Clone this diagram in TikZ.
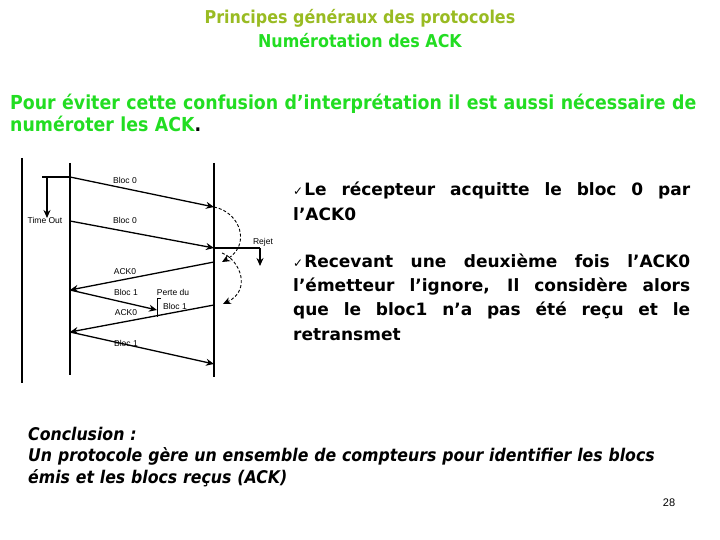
\documentclass[tikz,border=0pt]{standalone}
\usepackage{fontspec}
\setmainfont{DejaVu Sans}
\newfontfamily\condfont{DejaVu Sans Condensed}
\newfontfamily\arialfont{Liberation Sans}
\usetikzlibrary{arrows.meta,positioning}
\definecolor{olivetitle}{RGB}{153,187,34}
\definecolor{vertvif}{RGB}{34,221,34}
\newcommand{\ligne}[1]{\makebox[397pt][s]{#1}}
\newcommand{\coche}{{\mdseries\fontsize{12}{12}\selectfont ✓\kern1pt}}
\begin{document}
\begin{tikzpicture}[x=1pt,y=-1pt,
	lifeline/.style={line width=2pt},
	msg/.style={line width=1.3pt, -{Stealth[length=8pt,width=7pt]}},
	retour/.style={line width=0.9pt, densely dashed, -{Stealth[length=8pt,width=7pt]}},
	lbl/.style={font=\arialfont\fontsize{8.5}{9}\selectfont, inner sep=0pt},
	every node/.style={align=left}]
	
	\useasboundingbox (0,0) rectangle (720,540);
	
	% titres
	\node[font=\condfont\bfseries\fontsize{17.7}{18}\selectfont, text=olivetitle] (titre) at (360,18) {Principes généraux des protocoles};
	\node[font=\condfont\bfseries\fontsize{17.7}{18}\selectfont, text=vertvif] (soustitre) at (360,41) {Numérotation des ACK};
	\node[anchor=north west, inner sep=0pt, text width=705pt, font=\condfont\bfseries\fontsize{19.3}{22}\selectfont, text=vertvif] (intro) at (10,94)
	{Pour éviter cette confusion d’interprétation il est aussi nécessaire de\\ numéroter les ACK\textcolor{black}{.}};
	
	% lignes de vie
	\draw[lifeline] (22,158) -- (22,383);
	\draw[lifeline] (70,163) coordinate (emet) -- (70,375);
	\draw[lifeline] (214,163) coordinate (recep) -- (214,377);
	
	\coordinate (e1) at (70,177);
	\coordinate (r1) at (214,207);
	\coordinate (e2) at (70,221);
	\coordinate (r2) at (214,248);
	\coordinate (r3) at (214,262);
	\coordinate (e3) at (70,290);
	\coordinate (perte) at (157,310);
	\coordinate (r4) at (214,305);
	\coordinate (e4) at (70,332);
	\coordinate (r5) at (214,364);
	
	% time out
	\coordinate (to) at (42,177);
	\coordinate (toa) at (47,177);
	\coordinate (tob) at (47,218);
	\draw[line width=1.5pt] (to) -- (e1);
	\draw[msg] (toa) -- (tob);
	\node[lbl] (timeout) at (45,220) {Time Out};
	
	% echanges
	\draw[msg] (e1) -- (r1);
	\node[lbl] (b0a) at (125,180) {Bloc 0};
	\draw[msg] (e2) -- (r2);
	\node[lbl] (b0b) at (125,220) {Bloc 0};
	\draw[msg] (r3) -- (e3);
	\node[lbl] (ack0a) at (125,272) {ACK0};
	\draw[msg] (e3) -- (perte);
	\node[lbl] (b1a) at (126,292) {Bloc 1};
	\draw[msg] (r4) -- (e4);
	\node[lbl] (ack0b) at (126,313) {ACK0};
	\draw[msg] (e4) -- (r5);
	\node[lbl] (b1b) at (126,343) {Bloc 1};
	
	% perte du bloc 1
	\draw[line width=1pt] (161,298) -- (157,298) -- (157,317);
	\node[lbl] (perteA) at (173,292) {Perte du};
	\node[lbl] (perteB) at (175,306) {Bloc 1};
	
	% rejet
	\coordinate (rj) at (260,248);
	\coordinate (rjb) at (260,266);
	\draw[line width=1.5pt] (r2) -- (rj);
	\draw[msg] (rj) -- (rjb);
	\node[lbl] (rejet) at (263,242) {Rejet};
	
	% renvois
	\draw[retour] (r1) .. controls (240,212) and (252,245) .. (222,262);
	\draw[retour] (222,253) .. controls (240,260) and (252,290) .. (223,304);
	
	% commentaires
	\node[anchor=north west, inner sep=0pt, font=\bfseries\fontsize{17}{24.3}\selectfont] (comment) at (293,182)
	{\ligne{\coche Le récepteur acquitte le bloc 0 par}\\
	 l’ACK0\\[23pt]
	 \ligne{\coche Recevant une deuxième fois l’ACK0}\\
	 \ligne{l’émetteur l’ignore, Il considère alors}\\
	 \ligne{que le bloc1 n’a pas été reçu et le}\\
	 retransmet};
	
	% conclusion
	\node[anchor=north west, inner sep=0pt, text width=690pt, font=\condfont\bfseries\itshape\fontsize{17.5}{21.5}\selectfont] (conclu) at (28,427)
	{Conclusion :\\ Un protocole gère un ensemble de compteurs pour identifier les blocs\\ émis et les blocs reçus (ACK)};
	
	\node[font=\arialfont\fontsize{11}{12}\selectfont] (page) at (669,503) {28};
\end{tikzpicture}
\end{document}
